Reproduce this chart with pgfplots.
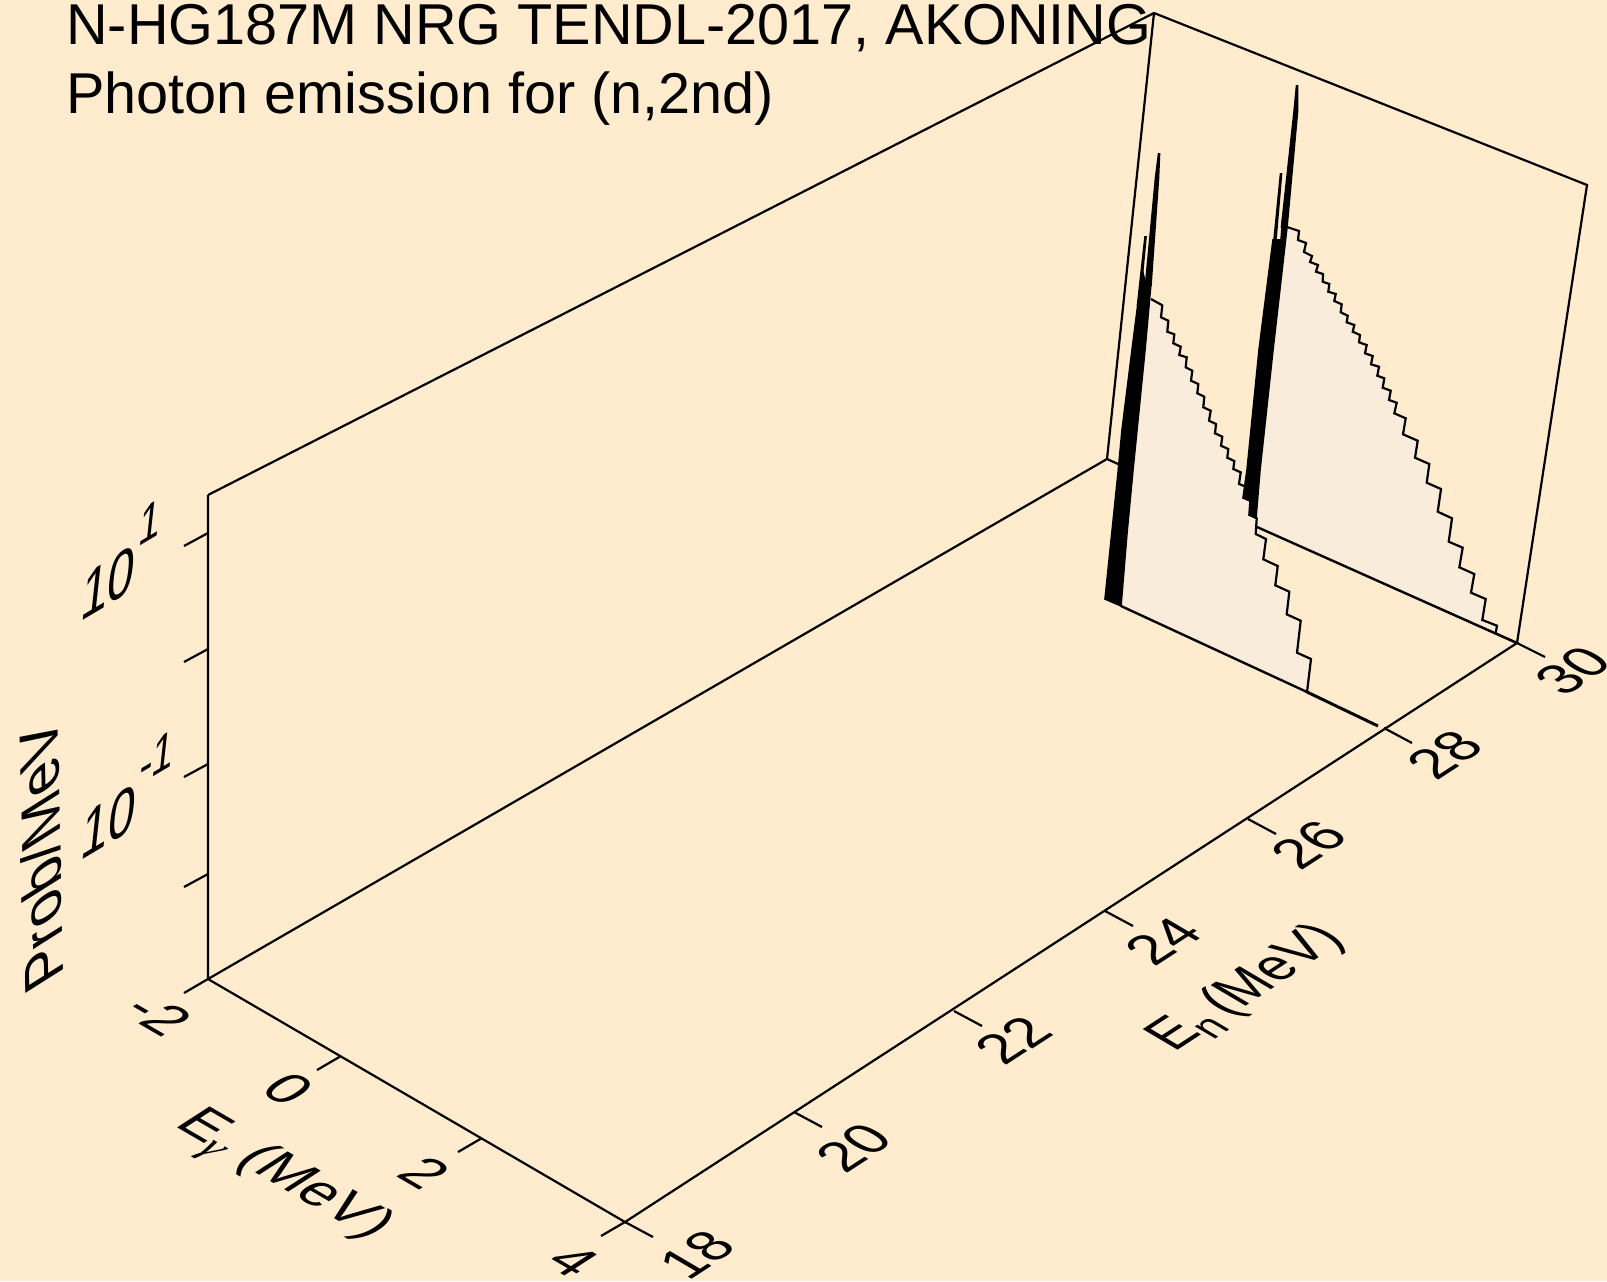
\documentclass[border=0pt]{standalone}
\usepackage{pgfplots}
\pgfplotsset{compat=1.18}
\usepackage{fontspec}
\setmainfont{Liberation Sans}
\newfontfamily\gfont{Liberation Serif}
\definecolor{bgc}{HTML}{FFEBCD}
\definecolor{fillc}{HTML}{FAECDA}
\newcommand{\seg}[4]{\addplot[black,line width=1.1pt,forget plot] coordinates {(#1,#2) (#3,#4)};}
\newcommand{\tf}{\fontsize{28.8}{34}\selectfont}
\newcommand{\subs}[1]{\raisebox{-0.2em}{\fontsize{22}{24}\selectfont #1}}
\newcommand{\sups}[1]{\raisebox{0.62em}{\fontsize{23}{25}\selectfont #1}}
\tikzset{
 flatn/.style={transform shape,cm={0.80,0.52,-0.85,0.50,(0,0)},anchor=center,inner sep=0pt},
 flatnl/.style={transform shape,cm={0.75,0.49,-0.88,0.52,(0,0)},anchor=center,inner sep=0pt},
 flatg/.style={transform shape,cm={0.86,-0.50,0.82,0.53,(0,0)},anchor=center,inner sep=0pt},
 wallz/.style={transform shape,cm={0.84,0.50,0.13,1.20,(0,0)},anchor=center,inner sep=0pt},
 wallp/.style={transform shape,cm={-0.02,1.02,-0.95,-0.60,(0,0)},anchor=center,inner sep=0pt},
 band/.style={fill=black,draw=black,line width=0.8pt}
}
\begin{document}
\begin{tikzpicture}[x=1pt,y=1pt]
\path[use as bounding box] (0,0) rectangle (803.5,640.5);
\begin{axis}[at={(0,0)},anchor=south west,scale only axis,width=803.5pt,height=640.5pt,
  xmin=0,xmax=1607,ymin=0,ymax=1281,y dir=reverse,hide axis,clip=false,
  line join=miter,line cap=butt]
\addplot[fill=bgc,draw=none,forget plot] coordinates {(0,0) (1607,0) (1607,1281) (0,1281)} -- cycle;
% box
\addplot[black,line width=1.1pt,forget plot] coordinates {(208,495) (208,979) (625,1222) (1517,643) (1107,459) (208,979)};
\addplot[black,line width=1.1pt,forget plot] coordinates {(208,495) (1154,13) (1587,185) (1517,643)};
\addplot[black,line width=1.1pt,forget plot] coordinates {(1154,13) (1107,459)};
% fill En=30
\addplot[fill=fillc,draw=none,forget plot] coordinates {
(1287,227)(1299,231)(1298,240)(1306,243)(1304,252)(1312,256)(1310,262)(1318,265)(1316,271.7)(1323,274)(1322.7,281.7)(1329.3,284)(1328.3,291.7)(1335.7,294)(1334.3,301)(1341.7,304.3)(1340.7,312.3)(1347.7,315.7)(1346.7,322.3)(1354.3,325)(1352.7,331.7)(1360,335)(1359,342.3)(1366.7,345)(1365,353.3)(1372.7,356)(1371,364.3)(1379,366.7)(1377.3,375.7)(1384.3,378.3)(1382.7,387.7)(1390.7,390.7)(1389,400)(1396.7,402.7)(1394.3,413.3)(1405.7,418.3)(1403,434.3)(1417.7,440.7)(1415,457.7)(1429.3,464)(1426.7,482.7)(1441,489)(1437.7,511.7)(1452,518.3)(1448.7,541.7)(1462.7,547.7)(1459.3,567.3)(1474.3,574)(1471,592.7)(1485.7,599)(1482.3,620)(1497,625.7)(1495.7,632.7)
(1257,527)(1256,518)(1260,470)(1273,350)} -- cycle;
% fill En=28
\addplot[fill=fillc,draw=none,forget plot] coordinates {
(1151,299)(1162.3,305.3)(1161,317.3)(1168.3,320.7)(1167.3,331.7)(1174.3,334.3)(1173.3,343.3)(1180.7,346.7)(1179.3,355)(1186.7,357.3)(1185.7,367.3)(1192.3,370.7)(1191,380.7)(1198.3,384)(1197.3,393.3)(1204.3,396.7)(1203.3,407.3)(1210.7,410.7)(1209,420.7)(1216,424)(1215,433.3)(1222.3,436.7)(1221,445.7)(1228.3,449)(1227.3,457.7)(1234.3,461)(1233.3,469)(1240.7,472.3)(1239,484)(1244,486)(1250,515)(1256.7,518.3)(1255.7,534)(1266,539)(1263.3,559.3)(1277.7,566)(1275.3,585.3)(1289.3,591.7)(1286.7,614.3)(1300.7,620.7)(1297,652.7)(1311,659)(1307,692)
(1121,606)(1127,533)(1133,470)(1145,350)(1151,283)} -- cycle;
% stepped curves
\addplot[black,line width=1.1pt,forget plot] coordinates {
(1287,227)(1299,231)(1298,240)(1306,243)(1304,252)(1312,256)(1310,262)(1318,265)(1316,271.7)(1323,274)(1322.7,281.7)(1329.3,284)(1328.3,291.7)(1335.7,294)(1334.3,301)(1341.7,304.3)(1340.7,312.3)(1347.7,315.7)(1346.7,322.3)(1354.3,325)(1352.7,331.7)(1360,335)(1359,342.3)(1366.7,345)(1365,353.3)(1372.7,356)(1371,364.3)(1379,366.7)(1377.3,375.7)(1384.3,378.3)(1382.7,387.7)(1390.7,390.7)(1389,400)(1396.7,402.7)(1394.3,413.3)(1405.7,418.3)(1403,434.3)(1417.7,440.7)(1415,457.7)(1429.3,464)(1426.7,482.7)(1441,489)(1437.7,511.7)(1452,518.3)(1448.7,541.7)(1462.7,547.7)(1459.3,567.3)(1474.3,574)(1471,592.7)(1485.7,599)(1482.3,620)(1497,625.7)(1495.7,632.7)};
\addplot[black,line width=1.1pt,forget plot] coordinates {
(1151,299)(1162.3,305.3)(1161,317.3)(1168.3,320.7)(1167.3,331.7)(1174.3,334.3)(1173.3,343.3)(1180.7,346.7)(1179.3,355)(1186.7,357.3)(1185.7,367.3)(1192.3,370.7)(1191,380.7)(1198.3,384)(1197.3,393.3)(1204.3,396.7)(1203.3,407.3)(1210.7,410.7)(1209,420.7)(1216,424)(1215,433.3)(1222.3,436.7)(1221,445.7)(1228.3,449)(1227.3,457.7)(1234.3,461)(1233.3,469)(1240.7,472.3)(1239,484)(1244,486)};
\addplot[black,line width=1.1pt,forget plot] coordinates {
(1250,515)(1256.7,518.3)(1255.7,534)(1266,539)(1263.3,559.3)(1277.7,566)(1275.3,585.3)(1289.3,591.7)(1286.7,614.3)(1300.7,620.7)(1297,652.7)(1311,659)(1307,692)};
% baselines
\addplot[black,line width=1.2pt,forget plot] coordinates {(1257,527) (1517,643)};
\addplot[black,line width=1.2pt,forget plot] coordinates {(1121,606) (1307,692)};
\addplot[black,line width=1.5pt,forget plot] coordinates {(1307,692) (1378,726)};
% black bands and spikes, En=30
\addplot[band,forget plot] coordinates {(1243,498)(1250,501)(1249,515)(1256,518)(1260,470)(1273,350)(1287,227)(1286,215)(1283,215)(1281,240)(1273,240)(1259,350)(1247,470)} -- cycle;
\addplot[band,forget plot] coordinates {(1296.5,86)(1297.5,86)(1297.5,112)(1287,227)(1281.5,227)(1294,112)} -- cycle;
\addplot[band,forget plot] coordinates {(1280.5,174)(1281.5,174)(1275.5,245)(1273.5,245)} -- cycle;
% black bands and spikes, En=28
\addplot[band,forget plot] coordinates {(1105,599)(1121,606)(1127,533)(1133,470)(1145,350)(1151,283)(1148,281)(1147,290)(1143,273)(1140,295)(1138,303)(1132,350)(1122,430)(1118,473)} -- cycle;
\addplot[band,forget plot] coordinates {(1158.5,154)(1159.5,154)(1158.5,178)(1151,285)(1145.5,285)(1155.5,178)} -- cycle;
\addplot[band,forget plot] coordinates {(1145,237)(1146,237)(1139.5,305)(1137.5,305)} -- cycle;
% ticks
\seg{208}{533}{184}{546}
\seg{208}{649}{184}{662}
\seg{208}{764}{184}{777}
\seg{208}{874}{184}{887}
\seg{208}{979}{184}{993}
\seg{341}{1056}{317}{1070}
\seg{482}{1138}{458}{1152}
\seg{625}{1222}{601}{1236}
\seg{625}{1222}{653}{1237}
\seg{794}{1112}{822}{1127}
\seg{954}{1011}{982}{1026}
\seg{1105}{911}{1133}{926}
\seg{1248}{819}{1276}{834}
\seg{1384}{728}{1412}{743}
\seg{1517}{643}{1545}{657}
% title
\node[anchor=base west,inner sep=0pt] at (axis cs:66,44) {\tf N-HG187M NRG TENDL-2017, AKONING};
\node[anchor=base west,inner sep=0pt] at (axis cs:66,113) {\tf Photon emission for (n,2nd)};
% En tick labels
\node[flatn] at (axis cs:697,1255) {\tf 18};
\node[flatn] at (axis cs:854,1148) {\tf 20};
\node[flatn] at (axis cs:1013,1040) {\tf 22};
\node[flatn] at (axis cs:1163,941) {\tf 24};
\node[flatn] at (axis cs:1309,845) {\tf 26};
\node[flatn] at (axis cs:1445,755) {\tf 28};
\node[flatn] at (axis cs:1573,671) {\tf 30};
\node[flatnl] at (axis cs:1247,989) {\tf E\subs{n}\,(MeV)};
% Egamma tick labels
\node[flatg] at (axis cs:159,1015) {\tf -2};
\node[flatg] at (axis cs:289,1089) {\tf 0};
\node[flatg] at (axis cs:425,1173) {\tf 2};
\node[flatg] at (axis cs:574,1261) {\tf 4};
\node[flatg] at (axis cs:280,1177) {\tf E\raisebox{-0.2em}{\fontsize{22}{24}\selectfont\gfont\itshape γ} (MeV)};
% z labels
\node[wallz] at (axis cs:121,560) {\tf 10\sups{1}};
\node[wallz] at (axis cs:128,795) {\tf 10\sups{-1}};
\node[wallp] at (axis cs:41,856) {\tf Prob/MeV};
\end{axis}
\end{tikzpicture}
\end{document}
